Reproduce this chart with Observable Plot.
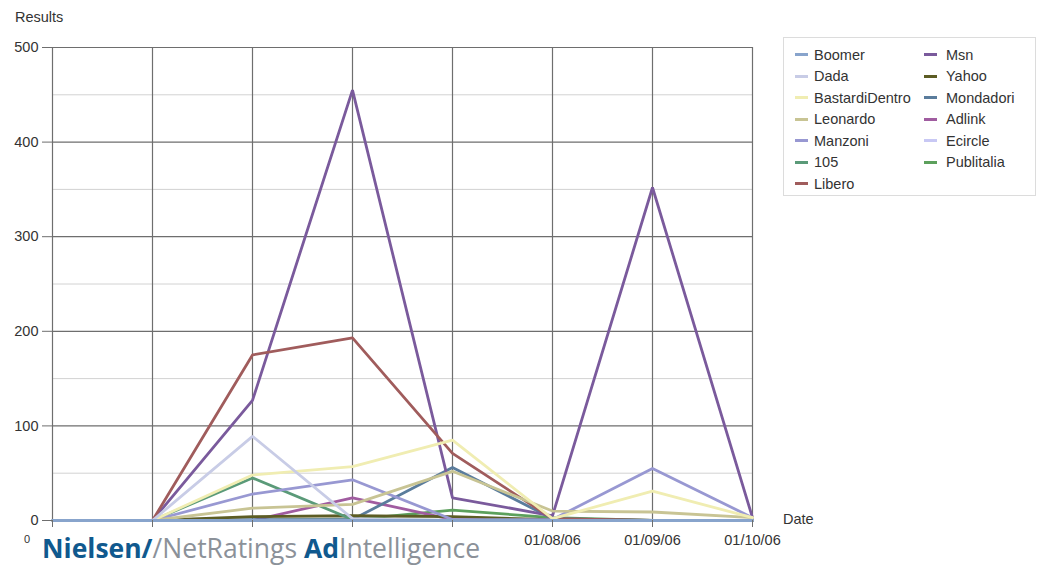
<!DOCTYPE html>
<html>
<head>
<meta charset="utf-8">
<script src="https://cdn.jsdelivr.net/npm/d3@7"></script>
<script src="https://cdn.jsdelivr.net/npm/@observablehq/plot@0.6"></script>
<style>
  html, body { margin: 0; padding: 0; background: #fff; }
  #wrap { position: relative; width: 1039px; height: 566px; overflow: hidden; font-family: "Liberation Sans", Arial, sans-serif; color: #333; }
  #wrap svg { position: absolute; left: 0; top: 0; }
  .abs { position: absolute; white-space: nowrap; color: #333; }
  #legend { position: absolute; left: 783px; top: 37px; width: 253px; height: 159px; border: 1px solid #dcdcdc; box-sizing: border-box; }
  .lg { position: absolute; font-size: 14.5px; color: #333; line-height: 16px; white-space: nowrap; }
  .sw { position: absolute; width: 13px; height: 3px; }
  #logo { position: absolute; left: 42px; top: 534.5px; font-family: "Open Sans", "Noto Sans", sans-serif; font-size: 26.5px; line-height: 26.5px; white-space: nowrap; }
</style>
</head>
<body>
<div id="wrap"></div>
<script>
const dates = ["01/03/06","01/04/06","01/05/06","01/06/06","01/07/06","01/08/06","01/09/06","01/10/06"];
const tickLabels = ["","","","","","01/08/06","01/09/06","01/10/06"];
const yTicks = [0, 100, 200, 300, 400, 500];
const yMinor = [50, 150, 250, 350, 450];

const names = ["Boomer","Dada","BastardiDentro","Leonardo","Manzoni","105","Libero","Msn","Yahoo","Mondadori","Adlink","Ecircle","Publitalia"];
const colors = ["#88a4cc","#c8cce6","#f0edb2","#c8c494","#9898d2","#5a9a78","#a05c5c","#7a5a9c","#5c5c24","#5a7c9c","#a05ca0","#c8c8f4","#5ca05c"];

const Boomer         = [0, 0, 0, 0, 0, 0, 0, 0];
const Dada           = [0, 0, 89, 2, 0, 0, 0, 0];
const BastardiDentro = [0, 0, 48, 57, 85, 2, 31, 3];
const Leonardo       = [0, 0, 13, 17, 52, 10, 9, 3];
const Manzoni        = [0, 0, 28, 43, 1, 1, 55, 3];
const S105           = [0, 0, 45, 1, 0, 0, 0, 0];
const Libero         = [0, 0, 175, 193, 71, 2, 0, 0];
const Msn            = [0, 0, 127, 455, 24, 5, 352, 3];
const Yahoo          = [0, 0, 4, 5, 4, 1, 0, 0];
const Mondadori      = [0, 0, 1, 1, 56, 2, 0, 0];
const Adlink         = [0, 0, 0, 24, 1, 0, 0, 0];
const Ecircle        = [0, 0, 0, 0, 0, 0, 0, 0];
const Publitalia     = [0, 0, 0, 1, 11, 3, 0, 0];

const seriesValues = [Boomer, Dada, BastardiDentro, Leonardo, Manzoni, S105, Libero, Msn, Yahoo, Mondadori, Adlink, Ecircle, Publitalia];

const rows = [];
// draw in reverse legend order so Boomer ends on top
for (let s = names.length - 1; s >= 0; s--) {
  seriesValues[s].forEach((v, i) => rows.push({series: names[s], date: dates[i], value: v}));
}

const chart = Plot.plot({
  width: 1039,
  height: 566,
  marginLeft: 52,
  marginRight: 287,
  marginTop: 47,
  marginBottom: 46,
  style: {fontFamily: "Liberation Sans, Arial, sans-serif", fontSize: "14.5px", color: "#333", background: "transparent"},
  x: {type: "point", domain: dates, padding: 0, label: null},
  y: {domain: [0, 500], label: null},
  color: {domain: names, range: colors},
  marks: [
    Plot.ruleY(yMinor, {stroke: "#d2d2d2", strokeWidth: 1}),
    Plot.ruleY(yTicks, {stroke: "#6e6e6e", strokeWidth: 1.2}),
    Plot.ruleX(dates, {stroke: "#6e6e6e", strokeWidth: 1.2}),
    Plot.line(rows, {x: "date", y: "value", z: "series", stroke: "series", strokeWidth: 2.8, strokeLinejoin: "miter"}),
    Plot.axisY({ticks: yTicks, tickSize: 10, tickPadding: 4, stroke: "#6e6e6e", fill: "#333", fontSize: 14.5}),
    Plot.axisX({ticks: dates, tickSize: 7, tickPadding: 7, stroke: "#6e6e6e", fill: "#333", fontSize: 14.5,
      tickFormat: d => tickLabels[dates.indexOf(d)]})
  ]
});

const wrap = document.getElementById("wrap");
wrap.appendChild(chart);

function addText(txt, left, top, size) {
  const d = document.createElement("div");
  d.className = "abs";
  d.textContent = txt;
  d.style.left = left + "px";
  d.style.top = top + "px";
  d.style.fontSize = size + "px";
  d.style.lineHeight = (size + 2) + "px";
  wrap.appendChild(d);
}
addText("Results", 15, 9, 14.5);
addText("Date", 783, 511, 14.5);
addText("0", 24, 533, 11);

const legend = document.createElement("div");
legend.id = "legend";
wrap.appendChild(legend);
names.forEach((n, i) => {
  const col = i < 7 ? 0 : 1;
  const row = i < 7 ? i : i - 7;
  const yc = 54 + row * 21.5 - 37;
  const sw = document.createElement("div");
  sw.className = "sw";
  sw.style.background = colors[i];
  sw.style.left = (col === 0 ? 11 : 140) + "px";
  sw.style.top = (yc - 2) + "px";
  legend.appendChild(sw);
  const t = document.createElement("div");
  t.className = "lg";
  t.textContent = n;
  t.style.left = (col === 0 ? 30 : 162) + "px";
  t.style.top = (yc - 8.5) + "px";
  legend.appendChild(t);
});

const logo = document.createElement("div");
logo.id = "logo";
logo.innerHTML = '<span style="color:#10598e;font-weight:700">Nielsen/</span><span style="color:#8b9199">/NetRatings </span><span style="color:#10598e;font-weight:700">Ad</span><span style="color:#8b9199">Intelligence</span>';
wrap.appendChild(logo);
</script>
</body>
</html>
